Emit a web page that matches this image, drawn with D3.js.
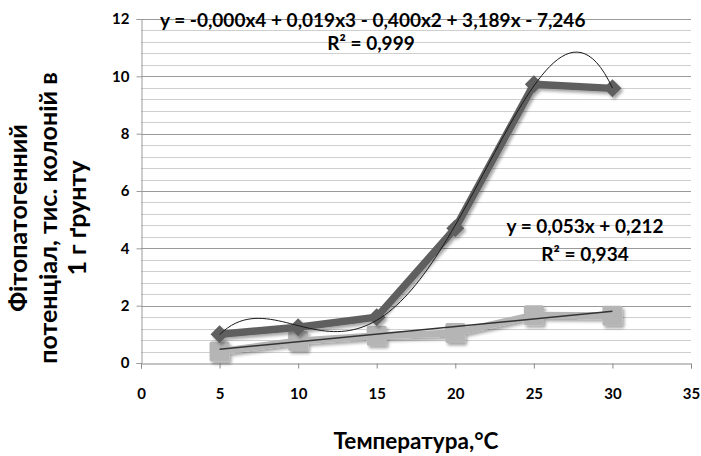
<!DOCTYPE html>
<html><head><meta charset="utf-8">
<script src="https://cdn.jsdelivr.net/npm/d3@7"></script>
<style>
html,body{margin:0;padding:0;background:#fff;}
svg{display:block;font-family:Lato,"Open Sans",sans-serif;}
</style></head>
<body>
<svg id="c" width="701" height="456"></svg>
<script>
// ---- data ----
const temperatures = [5, 10, 15, 20, 25, 30];
const series1 = [1.0, 1.25, 1.6, 4.7, 9.72, 9.58];   // diamonds, dark
const series2 = [0.4, 0.77, 0.95, 1.05, 1.67, 1.65]; // squares, light
const xTicks = [0, 5, 10, 15, 20, 25, 30, 35];
const yTicks = [0, 2, 4, 6, 8, 10, 12];
const linearCoef = [0.212, 0.053]; // intercept, slope (from label)
const eq1Label = "y = -0,000x4 + 0,019x3 - 0,400x2 + 3,189x - 7,246";
const r1Label = "R² = 0,999";
const eq2Label = "y = 0,053x + 0,212";
const r2Label = "R² = 0,934";
const yTitleLines = ["Фітопатогенний", "потенціал, тис. колоній в", "1 г ґрунту"];
const xTitle = "Температура,°C";

const svg = d3.select("#c");
const pLeft = 141, pRight = 691, pTop = 19, pBottom = 363;
const x = d3.scaleLinear().domain([0, 35]).range([pLeft, pRight]);
const y = d3.scaleLinear().domain([0, 12]).range([pBottom, pTop]);

const defs = svg.append("defs");
const f = defs.append("filter").attr("id", "sh").attr("x", "-30%").attr("y", "-30%").attr("width", "160%").attr("height", "160%");
f.append("feDropShadow").attr("dx", 2).attr("dy", 2.5).attr("stdDeviation", 1.8).attr("flood-color", "#000").attr("flood-opacity", 0.35);

// minor gridlines
const minor = d3.range(0, 12.0001, 0.4).filter(v => Math.abs(v / 2 - Math.round(v / 2)) > 1e-6);
svg.append("g").selectAll("line").data(minor).join("line")
  .attr("x1", pLeft).attr("x2", pRight).attr("y1", d => Math.round(y(d)) + 0.5).attr("y2", d => Math.round(y(d)) + 0.5)
  .attr("stroke", "#cfcfcf").attr("stroke-width", 1);
// major gridlines
svg.append("g").selectAll("line").data(yTicks.filter(d => d > 0)).join("line")
  .attr("x1", pLeft).attr("x2", pRight).attr("y1", d => Math.round(y(d)) + 0.5).attr("y2", d => Math.round(y(d)) + 0.5)
  .attr("stroke", "#9a9a9a").attr("stroke-width", 1);

// y axis
const ya = svg.append("g").attr("transform", `translate(${pLeft + 0.5},0)`)
  .call(d3.axisLeft(y).tickValues(yTicks).tickSize(5).tickPadding(7).tickFormat(d3.format("d")));
ya.select(".domain").attr("stroke", "#9a9a9a");
ya.selectAll(".tick line").attr("stroke", "#9a9a9a");
ya.selectAll("text").attr("font-size", 15).attr("font-weight", 700).attr("fill", "#000").attr("font-family", "Lato,sans-serif");

// x axis
const xa = svg.append("g").attr("transform", `translate(0,${pBottom + 0.5})`)
  .call(d3.axisBottom(x).tickValues(xTicks).tickSize(5).tickPadding(20).tickFormat(d3.format("d")));
xa.select(".domain").attr("stroke", "#8a8a8a");
xa.selectAll(".tick line").attr("stroke", "#8a8a8a");
xa.selectAll("text").attr("font-size", 15).attr("font-weight", 700).attr("fill", "#000").attr("font-family", "Lato,sans-serif");

const line = d3.line().x((d, i) => x(temperatures[i])).y(d => y(d));

// series 2 (light squares)
const g2 = svg.append("g").attr("filter", "url(#sh)");
g2.append("path").datum(series2).attr("d", line).attr("fill", "none").attr("stroke", "#b5b5b5").attr("stroke-width", 7).attr("stroke-linejoin", "round");
g2.selectAll("rect").data(series2).join("rect")
  .attr("x", (d, i) => x(temperatures[i]) - 10).attr("y", d => y(d) - 10)
  .attr("width", 20).attr("height", 20).attr("rx", 2).attr("fill", "#b5b5b5");

// series 1 (dark diamonds)
const g1 = svg.append("g").attr("filter", "url(#sh)");
g1.append("path").datum(series1).attr("d", line).attr("fill", "none").attr("stroke", "#5f5f5f").attr("stroke-width", 7.5).attr("stroke-linejoin", "round");
g1.selectAll("path.m").data(series1).join("path").attr("class", "m")
  .attr("transform", (d, i) => `translate(${x(temperatures[i])},${y(d)})`)
  .attr("d", "M0,-9L9,0L0,9L-9,0Z").attr("fill", "#5f5f5f");

// polynomial (degree 4) least-squares trend for series 1
function polyfit(xs, ys, deg) {
  const n = deg + 1;
  const A = Array.from({length: n}, () => new Array(n + 1).fill(0));
  xs.forEach((xv, k) => {
    for (let i = 0; i < n; i++) {
      for (let j = 0; j < n; j++) A[i][j] += Math.pow(xv, i + j);
      A[i][n] += ys[k] * Math.pow(xv, i);
    }
  });
  for (let c = 0; c < n; c++) {
    let p = c;
    for (let r = c + 1; r < n; r++) if (Math.abs(A[r][c]) > Math.abs(A[p][c])) p = r;
    [A[c], A[p]] = [A[p], A[c]];
    for (let r = 0; r < n; r++) if (r !== c) {
      const fct = A[r][c] / A[c][c];
      for (let k = c; k <= n; k++) A[r][k] -= fct * A[c][k];
    }
  }
  return A.map((row, i) => row[n] / row[i]);
}
const ts = temperatures.map(v => (v - 17.5) / 12.5);
const coef = polyfit(ts, series1, 4);
const polyVal = xv => { const t = (xv - 17.5) / 12.5; return coef.reduce((s, c, i) => s + c * Math.pow(t, i), 0); };
const xsCurve = d3.range(5, 30.0001, 0.25);
svg.append("path").datum(xsCurve)
  .attr("d", d3.line().x(d => x(d)).y(d => y(polyVal(d))))
  .attr("fill", "none").attr("stroke", "#1a1a1a").attr("stroke-width", 1);

// linear trend for series 2
const xr = [temperatures[0], temperatures[temperatures.length - 1]];
svg.append("line")
  .attr("x1", x(xr[0])).attr("y1", y(linearCoef[0] + linearCoef[1] * xr[0]))
  .attr("x2", x(xr[1])).attr("y2", y(linearCoef[0] + linearCoef[1] * xr[1]))
  .attr("stroke", "#333").attr("stroke-width", 1.5);

// equation labels
const lab = (t, cx, by, anchor) => svg.append("text").attr("x", cx).attr("y", by).attr("text-anchor", anchor)
  .attr("font-size", 19).attr("font-weight", 700).attr("fill", "#000").text(t);
lab(eq1Label, 160, 27, "start");
lab(r1Label, 371, 50, "middle");
lab(eq2Label, 585, 233, "middle");
lab(r2Label, 585, 261, "middle");

// axis titles
const yBase = [27, 57, 86];
yTitleLines.forEach((t, i) => {
  svg.append("text").attr("transform", `translate(${yBase[i]},218) rotate(-90)`)
    .attr("text-anchor", "middle").attr("font-size", 25).attr("font-weight", 700).attr("fill", "#000").text(t);
});
svg.append("text").attr("x", 416).attr("y", 449).attr("text-anchor", "middle")
  .attr("font-size", 22.5).attr("font-weight", 700).attr("fill", "#000").text(xTitle);
</script>
</body></html>
